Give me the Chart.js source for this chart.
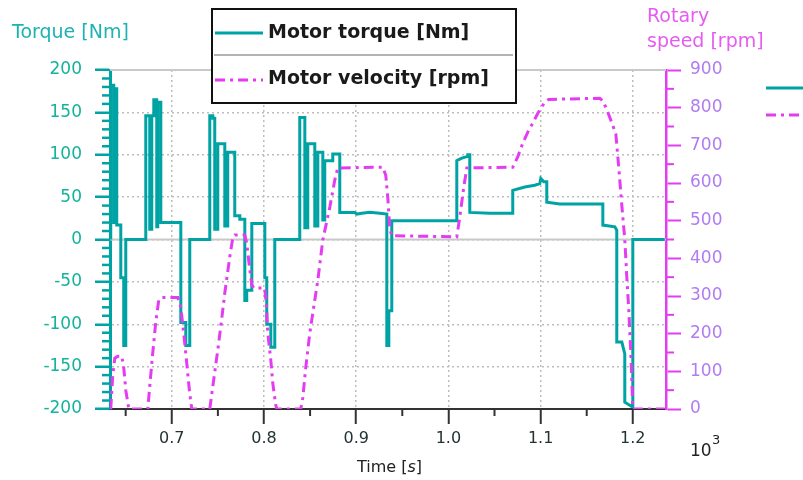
<!DOCTYPE html>
<html lang="en">
<head>
<meta charset="UTF-8">
<title>Motor torque and velocity</title>
<style>
  body { margin: 0; background: #ffffff; }
  #wrap { width: 803px; height: 480px; }
</style>
</head>
<body>
<div id="wrap"><canvas id="motorChart" width="803" height="480"></canvas></div>
<script src="https://cdn.jsdelivr.net/npm/chart.js"></script>
<script>
// time is in units of 10^3 s, as on the axis
const torqueTime = [
  0.6338, 0.6338, 0.6371, 0.6371, 0.6382, 0.6382, 0.6403, 0.6403, 0.6447, 0.6447, 0.6479, 0.6479, 0.6501, 0.6501,
  0.6718, 0.6718, 0.6761, 0.6761, 0.6783, 0.6783, 0.6805, 0.6805, 0.6837, 0.6837, 0.6848, 0.6848, 0.6881, 0.6881,
  0.7098, 0.7098, 0.7152, 0.7152, 0.7195, 0.7195,
  0.7412, 0.7412, 0.7445, 0.7445, 0.7466, 0.7466, 0.7499, 0.7499, 0.7575, 0.7575, 0.7607, 0.7607, 0.7683, 0.7683,
  0.7738, 0.7738, 0.7792, 0.7792, 0.7813, 0.7813, 0.7868, 0.7868, 0.8009, 0.8009, 0.8030, 0.8030, 0.8074, 0.8074,
  0.8117, 0.8117,
  0.8388, 0.8388, 0.8443, 0.8443, 0.8475, 0.8475, 0.8551, 0.8551, 0.8584, 0.8584, 0.8638, 0.8638, 0.8659, 0.8659,
  0.8746, 0.8746, 0.8822, 0.8822, 0.8985, 0.9007, 0.9061, 0.9148, 0.9256, 0.9332, 0.9332, 0.9354, 0.9354, 0.9386,
  0.9386,
  1.0091, 1.0091, 1.0145, 1.0210, 1.0210, 1.0232, 1.0232, 1.0449, 1.0698, 1.0698, 1.0829, 1.0937, 1.0991, 1.1002,
  1.1035, 1.1067, 1.1067, 1.1208, 1.1425, 1.1675, 1.1675, 1.1805, 1.1826, 1.1826, 1.1881, 1.1913, 1.1913, 1.1989,
  1.2000, 1.2000, 1.2347
];
const torqueValue = [
  0, 182, 182, 20, 20, 178, 178, 17, 17, -45, -45, -125, -125, 0,
  0, 146, 146, 12, 12, 146, 146, 165, 165, 15, 15, 162, 162, 20,
  20, -98, -98, -125, -125, 0,
  0, 146, 146, 143, 143, 12, 12, 113, 113, 16, 16, 103, 103, 28,
  28, 24, 24, -72, -72, -60, -60, 19, 19, -45, -45, -100, -100, -127,
  -127, 0,
  0, 144, 144, 14, 14, 113, 113, 16, 16, 103, 103, 23, 23, 93,
  93, 101, 101, 32, 32, 30, 31, 32, 31, 30, -125, -125, -84, -84,
  22,
  22, 93, 96, 98, 100, 100, 32, 31, 31, 58, 62, 64, 66, 72,
  68, 68, 44, 42, 42, 42, 17, 15, 11, -121, -121, -135, -192, -197,
  -197, 0, 0
];

const speedTime = [
  0.6338, 0.6360, 0.6382, 0.6414, 0.6458, 0.6479, 0.6501, 0.6534,
  0.6740, 0.6761, 0.6794, 0.6826, 0.6859, 0.6892, 0.7065, 0.7098, 0.7130, 0.7163, 0.7195, 0.7217,
  0.7412, 0.7456, 0.7499, 0.7542, 0.7575, 0.7629, 0.7662, 0.7683, 0.7792, 0.7813, 0.7846, 0.7868, 0.7889,
  0.8009, 0.8030, 0.8041, 0.8074, 0.8095, 0.8128, 0.8139,
  0.8399, 0.8421, 0.8453, 0.8497, 0.8584, 0.8638, 0.8714, 0.8768, 0.8800, 0.9289, 0.9321, 0.9343, 0.9364, 0.9386,
  1.0091, 1.0124, 1.0167, 1.0200, 1.0698, 1.0753, 1.0807, 1.0861, 1.0915, 1.0970, 1.1013, 1.1046, 1.1089,
  1.1642, 1.1675, 1.1718, 1.1772, 1.1816, 1.1848, 1.1881, 1.1913, 1.1935, 1.1957, 1.1978, 1.1989, 1.2000, 1.2347
];
const speedValue = [
  0, 90, 135, 140, 140, 110, 50, 0,
  0, 60, 150, 230, 290, 296, 296, 270, 200, 120, 40, 0,
  0, 80, 157, 240, 308, 404, 455, 462, 462, 440, 370, 330, 321,
  321, 260, 202, 130, 69, 10, 0,
  0, 30, 110, 202, 342, 449, 536, 608, 640, 642, 620, 560, 480, 460,
  457, 510, 590, 640, 642, 670, 706, 735, 759, 785, 802, 815, 822,
  825, 818, 795, 760, 730, 640, 540, 450, 350, 260, 150, 80, 0, 0
];

const timeTicks = [0.7, 0.8, 0.9, 1.0, 1.1, 1.2];
const timeMinorTicks = [0.65, 0.75, 0.85, 0.95, 1.05, 1.15];
const torqueTicks = [-200, -150, -100, -50, 0, 50, 100, 150, 200];
const speedTicks = [0, 100, 200, 300, 400, 500, 600, 700, 800, 900];
const seriesNames = ['Motor torque [Nm]', 'Motor velocity [rpm]'];

const colors = {
  torque: '#00a3a3',
  torqueText: '#1db3b3',
  torqueTick: '#14b39b',
  speed: '#e33cf2',
  speedText: '#e55cf0',
  speedTick: '#b07cf0',
  axis: '#333333',
  grid: '#bdbdbd',
  zero: '#c9c9c9'
};
const speedDash = [10, 5, 3, 5];
const fontFamily = '"DejaVu Sans", Verdana, sans-serif';

function seg(ctx, x1, y1, x2, y2) {
  ctx.beginPath();
  ctx.moveTo(x1, y1);
  ctx.lineTo(x2, y2);
  ctx.stroke();
}

const decorations = {
  id: 'decorations',
  beforeDatasetsDraw(chart) {
    const { ctx, chartArea: a, scales } = chart;
    ctx.save();
    ctx.strokeStyle = colors.zero;
    ctx.lineWidth = 2;
    [0, 200].forEach(v => {
      const y = scales.y.getPixelForValue(v);
      seg(ctx, a.left, y, a.right, y);
    });
    ctx.restore();
  },
  afterDraw(chart) {
    const { ctx, chartArea: a, scales } = chart;
    ctx.save();

    // minor ticks
    ctx.lineWidth = 2.5;
    ctx.strokeStyle = colors.torque;
    for (let v = -200; v <= 200; v += 10) {
      if (v % 50 === 0) continue;
      const y = scales.y.getPixelForValue(v);
      seg(ctx, a.left - 8, y, a.left, y);
    }
    ctx.strokeStyle = colors.speed;
    ctx.lineWidth = 2;
    for (let v = 50; v < 900; v += 100) {
      const y = scales.y1.getPixelForValue(v);
      seg(ctx, a.right, y, a.right + 8, y);
    }
    ctx.strokeStyle = colors.axis;
    timeMinorTicks.forEach(v => {
      const x = scales.x.getPixelForValue(v);
      seg(ctx, x, a.bottom, x, a.bottom + 7);
    });

    // axis titles
    ctx.textBaseline = 'alphabetic';
    ctx.textAlign = 'left';
    ctx.font = '19px ' + fontFamily;
    ctx.fillStyle = colors.torqueText;
    ctx.fillText('Torque [Nm]', 12, 38);
    ctx.fillStyle = colors.speedText;
    ctx.fillText('Rotary', 647, 22);
    ctx.fillText('speed [rpm]', 647, 47);

    ctx.fillStyle = '#222222';
    ctx.font = '16px ' + fontFamily;
    ctx.fillText('Time [', 357, 472);
    let w = ctx.measureText('Time [').width;
    ctx.font = 'italic 16px ' + fontFamily;
    ctx.fillText('s', 357 + w, 472);
    w += ctx.measureText('s').width;
    ctx.font = '16px ' + fontFamily;
    ctx.fillText(']', 357 + w, 472);

    ctx.font = '17px ' + fontFamily;
    ctx.fillText('10', 690, 456);
    ctx.font = '13px ' + fontFamily;
    ctx.fillText('3', 712, 444);

    // legend box
    const lx = 212, ly = 9, lw = 304, lh = 94;
    ctx.fillStyle = '#ffffff';
    ctx.fillRect(lx, ly, lw, lh);
    ctx.strokeStyle = '#111111';
    ctx.lineWidth = 2;
    ctx.strokeRect(lx, ly, lw, lh);
    ctx.strokeStyle = '#9a9a9a';
    ctx.lineWidth = 1.5;
    seg(ctx, lx + 2, 55, lx + lw - 3, 55);

    ctx.lineWidth = 3;
    ctx.strokeStyle = colors.torque;
    seg(ctx, 215, 33, 263, 33);
    ctx.strokeStyle = colors.speed;
    ctx.setLineDash(speedDash);
    seg(ctx, 215, 80, 263, 80);
    ctx.setLineDash([]);

    ctx.fillStyle = '#1a1a1a';
    ctx.font = 'bold 19px ' + fontFamily;
    ctx.textBaseline = 'middle';
    ctx.fillText(seriesNames[0], 268, 33);
    ctx.fillText(seriesNames[1], 268, 79);

    // cut-off legend at the right edge
    ctx.strokeStyle = colors.torque;
    seg(ctx, 766, 88, 803, 88);
    ctx.strokeStyle = colors.speed;
    ctx.setLineDash(speedDash);
    seg(ctx, 766, 115, 803, 115);
    ctx.setLineDash([]);

    ctx.restore();
  }
};

const ctx = document.getElementById('motorChart').getContext('2d');
new Chart(ctx, {
  type: 'line',
  data: {
    datasets: [
      {
        label: seriesNames[1],
        data: speedTime.map((t, i) => ({ x: t, y: speedValue[i] })),
        yAxisID: 'y1',
        borderColor: colors.speed,
        borderWidth: 3,
        borderDash: speedDash,
        pointRadius: 0,
        tension: 0
      },
      {
        label: seriesNames[0],
        data: torqueTime.map((t, i) => ({ x: t, y: torqueValue[i] })),
        yAxisID: 'y',
        borderColor: colors.torque,
        borderWidth: 3,
        pointRadius: 0,
        tension: 0
      }
    ]
  },
  options: {
    responsive: false,
    animation: false,
    layout: { padding: { top: 70, left: 0, right: 0, bottom: 0 } },
    plugins: { legend: { display: false }, tooltip: { enabled: false } },
    scales: {
      x: {
        type: 'linear',
        min: 0.633,
        max: 1.236,
        afterBuildTicks: s => { s.ticks = timeTicks.map(v => ({ value: v })); },
        afterFit: s => { s.height = 71; },
        ticks: {
          color: '#223333',
          font: { family: fontFamily, size: 16 },
          padding: 5,
          maxRotation: 0,
          callback: v => v.toFixed(1)
        },
        grid: {
          color: colors.grid,
          lineWidth: 1.5,
          tickLength: 15,
          tickColor: colors.axis,
          tickWidth: 2
        },
        border: { color: colors.axis, width: 2, dash: [2, 3] }
      },
      y: {
        position: 'left',
        min: -200,
        max: 200,
        afterBuildTicks: s => { s.ticks = torqueTicks.map(v => ({ value: v })); },
        afterFit: s => { s.width = 110; },
        ticks: {
          color: colors.torqueTick,
          font: { family: fontFamily, size: 17 },
          padding: 13
        },
        grid: {
          color: colors.grid,
          lineWidth: 1.5,
          tickLength: 15,
          tickColor: colors.torque,
          tickWidth: 2.5
        },
        border: { color: colors.torque, width: 3, dash: [2, 3] }
      },
      y1: {
        position: 'right',
        min: 0,
        max: 900,
        afterBuildTicks: s => { s.ticks = speedTicks.map(v => ({ value: v })); },
        afterFit: s => { s.width = 137; },
        ticks: {
          color: colors.speedTick,
          font: { family: fontFamily, size: 17 },
          padding: 9
        },
        grid: {
          drawOnChartArea: false,
          tickLength: 15,
          tickColor: colors.speed,
          tickWidth: 2
        },
        border: { color: colors.speed, width: 2.5 }
      }
    }
  },
  plugins: [decorations]
});
</script>
</body>
</html>
